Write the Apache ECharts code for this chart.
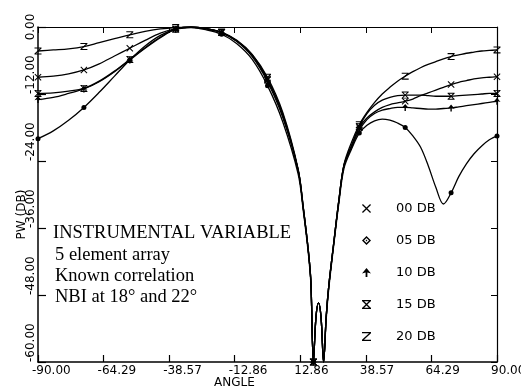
<!DOCTYPE html>
<html>
<head>
<meta charset="utf-8">
<script src="https://cdn.jsdelivr.net/npm/echarts@6/dist/echarts.min.js"></script>
<style>
  html, body { margin: 0; padding: 0; background: #fff; }
  #chart { width: 521px; height: 387px; }
</style>
</head>
<body>
<div id="chart"></div>
<script>
const angles = [-90, -84, -78, -72, -66, -60, -54, -48, -42, -36, -30, -24, -18, -12, -6, 0, 6, 12,
  14, 16, 17, 18, 19, 20, 21, 22, 23, 24, 26, 28, 30, 33,
  36, 39, 42, 45, 48, 51, 54, 57, 60, 63, 66, 69, 72, 75, 78, 81, 84, 87, 90];

const db00 = [-9.0, -8.8, -8.4, -7.7, -6.6, -5.2, -3.8, -2.4, -1.1, -0.3, 0, -0.3, -1.0, -2.5, -5.0, -9.3, -15.6, -25.6,
  -32.3, -40, -45.5, -60, -52, -49.4, -52, -60, -52, -46.5, -38.6, -31, -24.8, -21.2,
  -18.0, -16.3, -15.2, -14.4, -13.9, -13.6, -13.3, -12.9, -12.3, -11.8, -11.3, -10.8, -10.3, -9.9, -9.6, -9.3, -9.1, -9.0, -8.9];
const db05 = [-20.0, -18.6, -16.7, -14.4, -11.7, -8.8, -5.9, -3.4, -1.5, -0.4, -0.1, -0.5, -1.3, -3.0, -5.8, -10.5, -17.0, -26.3,
  -32.8, -40.5, -46, -60, -52, -49.4, -52, -60, -52.5, -47, -39, -31.5, -25.3, -21.8,
  -19.0, -17.6, -16.8, -16.5, -16.7, -17.2, -18.0, -19.5, -21.5, -24.8, -28.7, -31.7, -29.7, -26.8, -24.5, -22.7, -21.3, -20.2, -19.5];
const db10 = [-13.0, -12.6, -11.9, -11.1, -9.8, -8.0, -5.9, -3.8, -1.9, -0.4, 0, -0.3, -1.0, -2.6, -5.3, -9.8, -16.2, -25.6,
  -32.3, -40, -45.5, -60, -52, -49.4, -52, -60, -52, -46.5, -38.6, -31, -24.8, -21.5,
  -18.5, -16.6, -15.5, -14.9, -14.6, -14.4, -14.4, -14.5, -14.6, -14.7, -14.7, -14.6, -14.5, -14.3, -14.1, -13.9, -13.7, -13.5, -13.3];
const db15 = [-11.9, -11.8, -11.5, -11.0, -9.7, -7.9, -5.8, -3.7, -1.8, -0.4, 0, -0.3, -1.0, -2.5, -5.1, -9.5, -15.9, -25.6,
  -32.3, -40, -45.5, -60, -52, -49.4, -52, -60, -52, -46.5, -38.6, -31, -24.8, -21.2,
  -17.8, -15.5, -14.0, -13.1, -12.6, -12.3, -12.2, -12.2, -12.2, -12.3, -12.4, -12.4, -12.4, -12.3, -12.2, -12.1, -12.0, -11.9, -11.9];
const db20 = [-4.3, -4.1, -3.9, -3.5, -2.8, -2.1, -1.4, -0.8, -0.35, -0.1, 0, -0.3, -0.9, -2.4, -4.9, -9.0, -15.3, -25.4,
  -32.1, -40, -45.5, -60, -52, -49.4, -52, -60, -52, -46.5, -38.6, -31, -24.6, -20.6,
  -17.5, -15.3, -13.5, -12.0, -10.8, -9.7, -8.8, -8.0, -7.3, -6.7, -6.2, -5.7, -5.3, -5.0, -4.7, -4.5, -4.3, -4.2, -4.1];

const xTicks = [-90, 90];   // axis range, 7 intervals
const yTicks = [-60, 0];    // axis range, step 12

const names = ['00 DB', '05 DB', '10 DB', '15 DB', '20 DB'];

const icons = {
  '00 DB': 'path://M0,1L1,0L5,4L9,0L10,1L6,5L10,9L9,10L5,6L1,10L0,9L4,5Z',
  '05 DB': 'path://M5,0L10,5L5,10L0,5ZM5,2.2L2.2,5L5,7.8L7.8,5ZM5,4L6,5L5,6L4,5Z',
  '10 DB': 'path://M5,0L10,6L6,5L6,10L4,10L4,5L0,6Z',
  '15 DB': 'path://M0,0L10,0L10,1.3L0,1.3ZM0,8.7L10,8.7L10,10L0,10ZM0,1L1,0L5,4L9,0L10,1L6,5L10,9L9,10L5,6L1,10L0,9L4,5Z',
  '20 DB': 'path://M0,0L10,0L10,1.5L2.2,8.5L10,8.5L10,10L0,10L0,8.5L7.8,1.5L0,1.5Z'
};

const seriesVals = [db00, db05, db10, db15, db20];

const font = 'DejaVu Sans';
const serif = '18.5px "Liberation Serif"';

function makeData(vals) {
  return angles.map(function (a, i) {
    if (a % 18 === 0) return [a, vals[i]];
    return { value: [a, vals[i]], symbol: 'none' };
  });
}

const chart = echarts.init(document.getElementById('chart'), null, { renderer: 'canvas' });

const xInterval = (xTicks[1] - xTicks[0]) / 7;

chart.setOption({
  animation: false,
  backgroundColor: '#fff',
  grid: { left: 38, right: 24, top: 27, bottom: 25, containLabel: false, outerBoundsMode: 'none' },
  xAxis: [
    {
      type: 'value', min: xTicks[0], max: xTicks[1], interval: xInterval,
      name: 'ANGLE', nameLocation: 'middle', nameGap: 15, nameMoveOverlap: false,
      nameTextStyle: { fontFamily: font, fontSize: 12, color: '#000', padding: [0, 66, 0, 0] },
      axisLine: { show: true, onZero: false, lineStyle: { color: '#000', width: 1.5 } },
      axisTick: { show: true, inside: true, length: 7, lineStyle: { color: '#000', width: 1.2 } },
      axisLabel: {
        show: true, margin: 3, align: 'left', padding: [0, 0, 0, -6],
        fontFamily: font, fontSize: 12, color: '#000',
        formatter: function (v) { return v.toFixed(2); }
      },
      splitLine: { show: false }
    },
    {
      type: 'value', position: 'top', min: xTicks[0], max: xTicks[1], interval: xInterval,
      axisLine: { show: true, onZero: false, lineStyle: { color: '#000', width: 1.2 } },
      axisTick: { show: true, inside: true, length: 6, lineStyle: { color: '#000', width: 1 } },
      axisLabel: { show: false },
      splitLine: { show: false }
    }
  ],
  yAxis: [
    {
      type: 'value', min: yTicks[0], max: yTicks[1], interval: 12,
      name: 'PW (DB)', nameLocation: 'middle', nameGap: 10, nameRotate: 90, nameMoveOverlap: false,
      nameTextStyle: { fontFamily: font, fontSize: 12, color: '#000', padding: [0, 40, 0, 0] },
      axisLine: { show: true, onZero: false, lineStyle: { color: '#000', width: 1.5 } },
      axisTick: { show: true, inside: true, length: 8, lineStyle: { color: '#000', width: 1.2 } },
      axisLabel: {
        show: true, rotate: 90, margin: 7, align: 'left', verticalAlign: 'middle',
        alignMaxLabel: 'center',
        fontFamily: font, fontSize: 12, color: '#000',
        formatter: function (v) { return v.toFixed(2); }
      },
      splitLine: { show: false }
    },
    {
      type: 'value', position: 'right', min: yTicks[0], max: yTicks[1], interval: 12,
      axisLine: { show: true, onZero: false, lineStyle: { color: '#000', width: 1.2 } },
      axisTick: { show: true, inside: true, length: 6, lineStyle: { color: '#000', width: 1 } },
      axisLabel: { show: false },
      splitLine: { show: false }
    }
  ],
  legend: {
    orient: 'vertical', left: 357, top: 197,
    itemWidth: 9, itemHeight: 9, itemGap: 19,
    selectedMode: false,
    textStyle: { fontFamily: font, fontSize: 13, color: '#000', padding: [0, 0, 0, 20] },
    data: names.map(function (n) { return { name: n, icon: icons[n] }; })
  },
  graphic: [
    { type: 'text', left: 53, top: 224, style: { text: 'INSTRUMENTAL VARIABLE', font: serif, fill: '#000' } },
    { type: 'text', left: 55, top: 246, style: { text: '5 element array', font: serif, fill: '#000' } },
    { type: 'text', left: 55, top: 267, style: { text: 'Known correlation', font: serif, fill: '#000' } },
    { type: 'text', left: 55, top: 288, style: { text: 'NBI at 18\u00b0 and 22\u00b0', font: serif, fill: '#000' } }
  ],
  series: names.map(function (n, k) {
    return {
      name: n, type: 'line', smooth: 0.35, clip: true,
      symbol: n === '05 DB' ? 'circle' : icons[n],
      symbolSize: n === '05 DB' ? 5 : 7,
      lineStyle: { color: '#000', width: 1.3 },
      itemStyle: { color: '#000' },
      data: makeData(seriesVals[k])
    };
  })
});
</script>
</body>
</html>
